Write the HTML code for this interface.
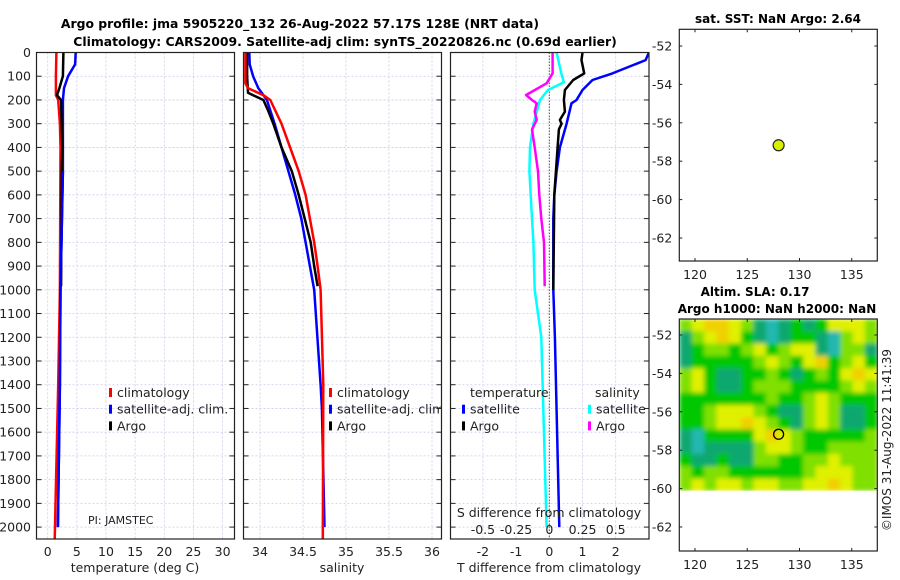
<!DOCTYPE html>
<html><head><meta charset="utf-8"><style>
html,body{margin:0;padding:0;background:#fff;}
svg{display:block;font-family:"DejaVu Sans","Liberation Sans",sans-serif;}
</style></head><body>
<svg id="fig" width="900" height="580" viewBox="0 0 900 580" xmlns="http://www.w3.org/2000/svg">
<text x="300" y="28" text-anchor="middle" font-weight="bold" font-size="12.4">Argo profile: jma 5905220_132 26-Aug-2022 57.17S 128E (NRT data)</text>
<text x="345" y="46" text-anchor="middle" font-weight="bold" font-size="12.4">Climatology: CARS2009. Satellite-adj clim: synTS_20220826.nc (0.69d earlier)</text>
<text x="778" y="23" text-anchor="middle" font-weight="bold" font-size="12">sat. SST: NaN Argo: 2.64</text>
<text x="755" y="296" text-anchor="middle" font-weight="bold" font-size="12">Altim. SLA: 0.17</text>
<text x="777" y="313" text-anchor="middle" font-weight="bold" font-size="12">Argo h1000: NaN h2000: NaN</text>
<text x="0" y="0" transform="translate(891,440) rotate(-90)" text-anchor="middle" font-size="12" fill="#222">©IMOS 31-Aug-2022 11:41:39</text>
<g id="g"></g>
</svg>
<script>
// ---- data ----
const depthTicks=[0,100,200,300,400,500,600,700,800,900,1000,1100,1200,1300,1400,1500,1600,1700,1800,1900,2000];
const tempTicks=[0,5,10,15,20,25,30];
const salTicks=[34,34.5,35,35.5,36];
const salTickLabels=["34","34.5","35","35.5","36"];
const tdTicks=[-2,-1,0,1,2];
const sdTicks=[-0.5,-0.25,0,0.25,0.5];
const sdTickLabels=["-0.5","-0.25","0","0.25","0.5"];
const latTicks=[-52,-54,-56,-58,-60,-62];
const lonTicks=[120,125,130,135];
const climTempDepth=[0,100,180,200,300,400,1000,1400,2055];
const climTempVal=[1.5,1.4,1.4,1.8,2.1,2.2,2.1,1.8,1.2];
const satTempDepth=[0,50,100,150,200,500,1000,1400,2000];
const satTempVal=[4.8,4.7,3.5,2.8,2.6,2.6,2.2,2.1,1.75];
const argoTempDepth=[0,100,150,180,200,300,400,500,985];
const argoTempVal=[2.7,2.6,2.0,1.6,2.3,2.4,2.5,2.4,2.3];
const climSalDepth=[0,130,150,180,200,300,400,500,600,700,800,900,1000,1400,2055];
const climSalVal=[33.83,33.83,33.86,34.04,34.12,34.25,34.35,34.45,34.53,34.58,34.63,34.67,34.705,34.736,34.73];
const satSalDepth=[0,50,100,150,200,300,400,500,600,700,800,900,1000,1400,1500,2000];
const satSalVal=[33.876,33.88,33.92,33.98,34.08,34.17,34.25,34.33,34.41,34.48,34.53,34.58,34.63,34.705,34.72,34.75];
const argoSalDepth=[0,100,170,180,200,250,300,400,500,600,700,800,900,985];
const argoSalVal=[33.85,33.85,33.86,33.92,34.04,34.1,34.155,34.25,34.37,34.45,34.52,34.59,34.63,34.67];
const satTdDepth=[0,32,88,116,158,200,214,300,400,500,600,700,1000,1200,2000];
const satTdVal=[3.0,2.9,1.9,1.3,1.0,0.82,0.67,0.52,0.32,0.22,0.15,0.12,0.12,0.17,0.3];
const argoTdDepth=[0,32,88,116,158,200,249,284,300,324,400,600,1000];
const argoTdVal=[1.0,0.97,1.05,0.72,0.47,0.44,0.47,0.32,0.37,0.29,0.25,0.15,0.12];
const satSdDepth=[0,88,125,158,200,300,400,500,600,700,800,1000,1200,2000];
const satSdVal=[0.055,0.09,0.11,-0.01,-0.07,-0.12,-0.145,-0.15,-0.14,-0.13,-0.12,-0.11,-0.06,-0.02];
const argoSdDepth=[0,88,130,179,200,214,249,284,324,400,500,600,700,800,985];
const argoSdVal=[0.025,0.025,-0.02,-0.175,-0.13,-0.095,-0.11,-0.095,-0.13,-0.11,-0.085,-0.075,-0.06,-0.04,-0.035];
const floatLon=128, floatLat=-57.17;
const slaLevels=[
[3,4,5,5,4,3,1,0,1,2,1,2,4,4,4,3],
[1,3,4,5,4,2,1,0,1,2,2,1,0,3,4,3],
[1,2,3,3,2,3,4,2,3,4,4,1,0,3,3,1],
[1,2,2,2,2,2,3,4,3,2,4,5,2,3,4,2],
[3,4,2,1,1,2,2,3,2,1,2,3,2,4,5,4],
[3,4,2,1,1,2,3,3,3,2,2,2,2,3,4,3],
[2,2,2,2,2,2,2,3,2,2,3,4,3,2,2,2],
[2,2,3,4,4,4,3,2,1,1,3,4,3,1,1,2],
[2,2,3,4,4,5,4,3,2,1,3,4,3,1,1,2],
[1,0,2,2,2,2,4,5,4,3,2,2,2,2,2,3],
[1,0,1,1,1,1,3,4,4,3,2,2,3,3,3,3],
[2,1,1,2,1,1,3,3,2,2,3,3,4,3,3,3],
[3,2,3,3,2,2,2,2,2,2,3,4,4,4,3,3],
[3,4,3,4,4,3,4,4,3,3,4,4,5,4,3,3]];
// ---- drawing ----
const NS="http://www.w3.org/2000/svg";
const G=document.getElementById('g');
function mk(tag,attrs,parent){const e=document.createElementNS(NS,tag);for(const k in attrs)e.setAttribute(k,attrs[k]);(parent||G).appendChild(e);return e;}
const PT=52.5, PB=539, DK=0.2373;
const yD=d=>PT+d*DK;
const xT=v=>47.7+v*5.83;
const xS=v=>260+(v-34)*86;
const xTd=v=>549.3+v*33.2;
const xSd=v=>549.3+v*132.8;
const panels=[[36.5,234.5],[243.5,441.5],[450.5,649]];
const gridC="#c8cce8";
const defs=mk('defs',{});
panels.forEach((p,i)=>{const c=mk('clipPath',{id:'cp'+i},defs);mk('rect',{x:p[0],y:PT,width:p[1]-p[0],height:PB-PT},c);});
function panelFrame(l,r,xs,name){
  for(const d of depthTicks){const e=mk('line',{x1:l,x2:r,y1:yD(d),y2:yD(d),stroke:gridC,'stroke-width':0.8,'stroke-dasharray':'2,2'});
  
  mk('line',{x1:l,x2:l+5,y1:yD(d),y2:yD(d),stroke:'#222'});mk('line',{x1:r-5,x2:r,y1:yD(d),y2:yD(d),stroke:'#222'});}
  for(const x of xs){const e=mk('line',{x1:x,x2:x,y1:PT,y2:PB,stroke:gridC,'stroke-width':0.8,'stroke-dasharray':'2,2'});
  }
}
function frame(l,r,name){const e=mk('rect',{x:l,y:PT,width:r-l,height:PB-PT,fill:'none',stroke:'#222','stroke-width':1.2});
}
function line(ds,vs,fx,color,w,name,cp){const p=ds.map((d,i)=>fx(vs[i]).toFixed(1)+','+yD(d).toFixed(1)).join(' ');
const e=mk('polyline',{points:p,fill:'none',stroke:color,'stroke-width':w,'stroke-linejoin':'round','clip-path':'url(#cp'+cp+')'});
}
function txt(x,y,s,opt,name,parent){const e=mk('text',Object.assign({x:x,y:y,'font-size':12,fill:'#222'},opt||{}),parent);e.textContent=s;
return e;}
function legend(x,name,cp){
  const lg=mk('g',{'clip-path':'url(#cp'+cp+')'});
  [['#f00','climatology'],['#00f','satellite-adj. clim.'],['#000','Argo']].forEach((it,i)=>{
   const y=392+i*16.7;const r=mk('rect',{x:x,y:y-4,width:3,height:9,fill:it[0]},lg);
   
   txt(x+8,y+5,it[1],{'font-size':12.5},name+'-legend-entry',lg);});
}
// panel 1
panelFrame(36.5,234.5,tempTicks.map(xT),'temp');
for(const d of depthTicks)txt(31,yD(d)+4.5,String(d),{'text-anchor':'end','font-size':12.5},'depth-tick-label');
tempTicks.forEach(t=>txt(xT(t),556,String(t),{'text-anchor':'middle','font-size':12.5},'temp-tick-label'));
txt(135,572,'temperature (deg C)',{'text-anchor':'middle','font-size':12.5},'temp-axis-title');
line(climTempDepth,climTempVal,xT,'#f00',2.5,'temp-climatology-line',0);
line(satTempDepth,satTempVal,xT,'#00f',2.5,'temp-satellite-line',0);
line(argoTempDepth,argoTempVal,xT,'#000',2.5,'temp-argo-line',0);
line(satTempDepth.filter(d=>d>=300),satTempVal.filter((v,i)=>satTempDepth[i]>=300),xT,'#00f',2.5,'temp-satellite-line-deep',0);
txt(88,524,'PI: JAMSTEC',{'font-size':11},'pi-label');
legend(109,'temp',0);
frame(36.5,234.5,'temp-panel');
// panel 2
panelFrame(243.5,441.5,salTicks.map(xS),'sal');
salTicks.forEach((t,i)=>txt(xS(t),556,salTickLabels[i],{'text-anchor':'middle','font-size':12.5},'sal-tick-label'));
txt(342,572,'salinity',{'text-anchor':'middle','font-size':12.5},'sal-axis-title');
line(satSalDepth,satSalVal,xS,'#00f',2.5,'sal-satellite-line',1);
line(argoSalDepth,argoSalVal,xS,'#000',2.5,'sal-argo-line',1);
line(climSalDepth,climSalVal,xS,'#f00',2.5,'sal-climatology-line',1);
legend(329,'sal',1);
frame(243.5,441.5,'sal-panel');
// panel 3
panelFrame(450.5,649,tdTicks.map(xTd),'diff');
mk('line',{x1:xTd(0),x2:xTd(0),y1:PT,y2:PB,stroke:'#555','stroke-width':1,'stroke-dasharray':'1.5,1.5'});
line(satSdDepth,satSdVal,xSd,'#0ff',2.5,'salinity-satellite-diff-line',2);
line(argoSdDepth,argoSdVal,xSd,'#f0f',2.5,'salinity-argo-diff-line',2);
line(satTdDepth,satTdVal,xTd,'#00f',2.5,'temperature-satellite-diff-line',2);
line(argoTdDepth,argoTdVal,xTd,'#000',2.5,'temperature-argo-diff-line',2);
tdTicks.forEach(t=>txt(xTd(t),556,String(t),{'text-anchor':'middle','font-size':12.5},'tdiff-tick-label'));
sdTicks.forEach((t,i)=>txt(xSd(t),534,sdTickLabels[i],{'text-anchor':'middle','font-size':12.5},'sdiff-tick-label'));
txt(549,517,'S difference from climatology',{'text-anchor':'middle','font-size':12.5},'sdiff-axis-title');
txt(549,572,'T difference from climatology',{'text-anchor':'middle','font-size':12.5},'tdiff-axis-title');
const lg3=mk('g',{'clip-path':'url(#cp2)'});
txt(470,397,'temperature',{'font-size':12.5},'legend-temperature-header',lg3);
txt(595,397,'salinity',{'font-size':12.5},'legend-salinity-header',lg3);
[['#00f','satellite',462,408.7],['#000','Argo',462,425.4],['#0ff','satellite',588,408.7],['#f0f','Argo',588,425.4]].forEach(it=>{
 const r=mk('rect',{x:it[2],y:it[3]-4,width:3,height:9,fill:it[0]},lg3);
 
 txt(it[2]+8,it[3]+5,it[1],{'font-size':12.5},'diff-legend-entry',lg3);});
frame(450.5,649,'diff-panel');
// maps
const ML=679.3, MR=877.3;
const xL=l=>695+(l-120)*10.45;
function mapAxes(top,bottom,lat52,name){
  const yLat=la=>lat52+(-52-la)*19.2;
  latTicks.forEach(la=>{mk('line',{x1:ML,x2:ML+3,y1:yLat(la),y2:yLat(la),stroke:'#222'});mk('line',{x1:MR-3,x2:MR,y1:yLat(la),y2:yLat(la),stroke:'#222'});
   txt(ML-7,yLat(la)+4.5,String(la),{'text-anchor':'end','font-size':12.5},name+'-lat-label');});
  lonTicks.forEach(lo=>{mk('line',{x1:xL(lo),x2:xL(lo),y1:bottom-3,y2:bottom,stroke:'#222'});mk('line',{x1:xL(lo),x2:xL(lo),y1:top,y2:top+3,stroke:'#222'});
   txt(xL(lo),bottom+18,String(lo),{'text-anchor':'middle','font-size':12.5},name+'-lon-label');});
  return yLat;
}
const y1=mapAxes(29.3,261,46,'sst-map');
const f=mk('rect',{x:ML,y:29.3,width:MR-ML,height:261-29.3,fill:'none',stroke:'#222','stroke-width':1.2});

const c1=mk('circle',{cx:xL(floatLon),cy:y1(floatLat),r:5.5,fill:'#d8f000',stroke:'#222','stroke-width':1.2});

const colors=['#20b8b0','#10a870','#00c800','#80e000','#e0f000','#f0d000','#f0a800'];
const MT=319, CB=490.7;
const rows=slaLevels.length, cols=slaLevels[0].length;
const cw=(MR-ML)/cols, ch=(CB-MT)/rows;
const flt=mk('filter',{id:'blur',x:'0',y:'0',width:'1',height:'1',filterUnits:'objectBoundingBox'},defs);
mk('feGaussianBlur',{stdDeviation:'2.5',edgeMode:'duplicate'},flt);
const hcp=mk('clipPath',{id:'hcp'},defs);mk('rect',{x:ML,y:MT,width:MR-ML,height:CB-MT},hcp);
const outer=mk('g',{'clip-path':'url(#hcp)'});
const hm=mk('g',{filter:'url(#blur)'},outer);

slaLevels.forEach((row,r)=>row.forEach((v,c)=>{const e=mk('rect',{x:ML+c*cw,y:MT+r*ch,width:cw+0.6,height:ch+0.6,fill:colors[v]},hm);
 }));
const y2=mapAxes(MT,551,335,'sla-map');
const f2=mk('rect',{x:ML,y:MT,width:MR-ML,height:551-MT,fill:'none',stroke:'#222','stroke-width':1.2});

const c2=mk('circle',{cx:xL(floatLon),cy:y2(floatLat),r:5,fill:'none',stroke:'#000','stroke-width':1.3});

</script>
</body></html>
